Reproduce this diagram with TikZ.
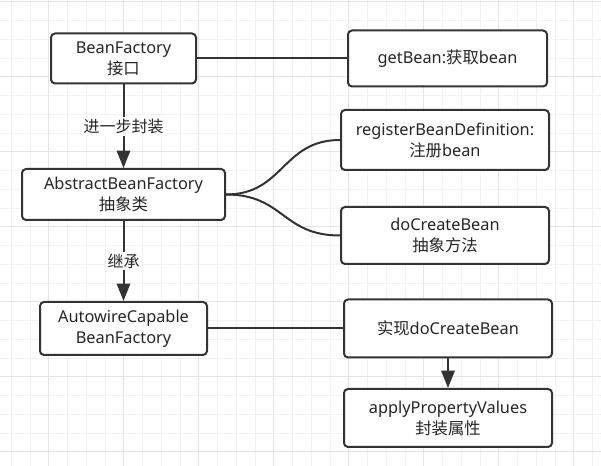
\documentclass[tikz,border=0pt]{standalone}
\usepackage{fontspec}
\setmainfont{Noto Sans}
\newfontfamily\cjk{Noto Sans CJK SC}
\usetikzlibrary{arrows.meta}
\definecolor{boxline}{HTML}{333333}
\definecolor{gridminor}{HTML}{F2F2F2}
\definecolor{gridmajor}{HTML}{E5E5E5}

\begin{document}
\begin{tikzpicture}[
    x=0.75pt, y=-0.75pt,
    module/.style={rectangle, draw=boxline, line width=1.5pt, rounded corners=3pt, fill=white, align=center, inner sep=2pt, text=black!85, font=\fontsize{12.25}{15.75}\selectfont},
    link/.style={draw=boxline, line width=1.5pt},
    extends/.style={link, -{Triangle[length=13pt, width=10pt]}},
    tag/.style={fill=white, inner sep=1.5pt, text=black!85, font=\cjk\fontsize{12}{14}\selectfont}
]

% Background grid
\fill[white] (0,0) rectangle (601,466);
\useasboundingbox (0,0) rectangle (601,466);
\foreach \i in {0,...,31}
    \draw[gridminor, line width=0.75pt] (11.25+18.75*\i, 0) -- (11.25+18.75*\i, 466);
\foreach \j in {0,...,24}
    \draw[gridminor, line width=0.75pt] (0, 2+18.75*\j) -- (601, 2+18.75*\j);
\foreach \i in {0,...,7}
    \draw[gridmajor, line width=0.75pt] (48.75+75*\i, 0) -- (48.75+75*\i, 466);
\foreach \j in {0,...,6}
    \draw[gridmajor, line width=0.75pt] (0, 2+75*\j) -- (601, 2+75*\j);

% Left column
\node[module, minimum width=108.75pt, minimum height=37.5pt] (bf) at (123.5, 58.5) {BeanFactory\\{\cjk 接口}};
\node[module, minimum width=152.25pt, minimum height=38.25pt] (abf) at (123.5, 194.5) {AbstractBeanFactory\\{\cjk 抽象类}};
\node[module, minimum width=125.25pt, minimum height=39.75pt] (acbf) at (123.5, 328.5) {AutowireCapable\\BeanFactory};

% Right column
\node[module, minimum width=149.25pt, minimum height=42pt] (getbean) at (447.5, 58.5) {getBean:{\cjk 获取}bean};
\node[module, minimum width=156pt, minimum height=45pt] (regdef) at (445, 140) {registerBeanDefinition:\\{\cjk 注册}bean};
\node[module, minimum width=156pt, minimum height=42.75pt] (docreate) at (445, 235.5) {doCreateBean\\{\cjk 抽象方法}};
\node[module, minimum width=156pt, minimum height=43.5pt] (impl) at (448, 328.5) {{\cjk 实现}doCreateBean};
\node[module, minimum width=156pt, minimum height=43.5pt] (applyprop) at (448, 418) {applyPropertyValues\\{\cjk 封装属性}};

% Connectors
\draw[link] (bf) -- (getbean);
\draw[extends] (bf) -- node[tag] {进一步封装} (abf);
\draw[extends] (abf) -- node[tag] {继承} (acbf);
\draw[link] (abf.east) .. controls +(58,0) and +(-58,0) .. (regdef.west);
\draw[link] (abf.east) .. controls +(58,0) and +(-58,0) .. (docreate.west);
\draw[link] (acbf) -- (impl);
\draw[extends] (impl) -- (applyprop);

\end{tikzpicture}
\end{document}
